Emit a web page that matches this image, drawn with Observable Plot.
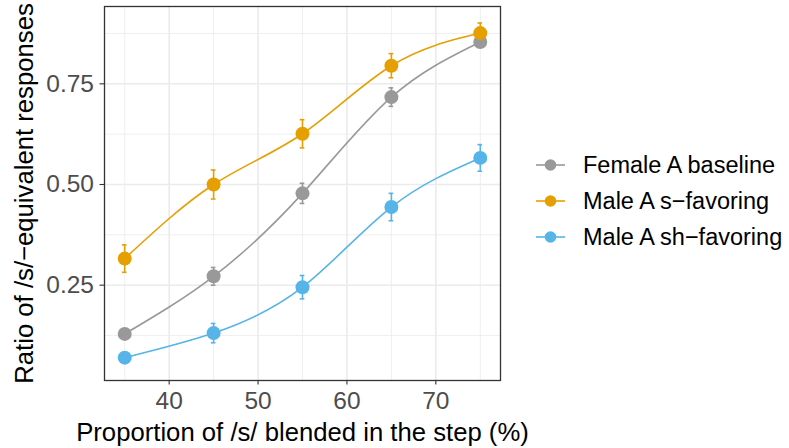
<!DOCTYPE html>
<html>
<head>
<meta charset="utf-8">
<script src="https://cdn.jsdelivr.net/npm/d3@7"></script>
<script src="https://cdn.jsdelivr.net/npm/@observablehq/plot@0.6"></script>
<style>
  html, body { margin: 0; padding: 0; background: #fff; }
  #wrap { position: relative; width: 789px; height: 448px; font-family: "Liberation Sans", Arial, Helvetica, sans-serif; }
  #legend { position: absolute; left: 536px; top: 147px; }
  .item { display: flex; align-items: center; height: 36px; font-size: 23.5px; color: #000; white-space: nowrap; }
  .item svg { margin-right: 18px; }
</style>
</head>
<body>
<div id="wrap"><div id="chart"></div><div id="legend"></div></div>
<script>
// Data
const steps = [35, 45, 55, 65, 75];
const seriesNames = ["Female A baseline", "Male A s\u2212favoring", "Male A sh\u2212favoring"];
const femaleBaseline = [0.129, 0.272, 0.478, 0.717, 0.854];
const maleSFavoring  = [0.316, 0.500, 0.626, 0.795, 0.876];
const maleShFavoring = [0.070, 0.131, 0.245, 0.444, 0.566];
const femaleBaselineErr = [0.010, 0.022, 0.025, 0.023, 0.010];
const maleSFavoringErr  = [0.034, 0.036, 0.035, 0.030, 0.025];
const maleShFavoringErr = [0.010, 0.024, 0.029, 0.034, 0.033];
const seriesColors = ["#999999", "#E69F00", "#56B4E9"];
const xTicks = [40, 50, 60, 70];
const xMinor = [35, 45, 55, 65, 75];
const yTicks = [0.25, 0.50, 0.75];
const yMinor = [0.125, 0.375, 0.625, 0.875];
const xTitle = "Proportion of /s/ blended in the step (%)";
const yTitle = "Ratio of /s/\u2212equivalent responses";

const values = [femaleBaseline, maleSFavoring, maleShFavoring];
const errs = [femaleBaselineErr, maleSFavoringErr, maleShFavoringErr];
const rows = [];
seriesNames.forEach((s, i) => steps.forEach((x, j) => rows.push({series: s, x, y: values[i][j], e: errs[i][j]})));

const capHalf = 0.26;
const font = "'Liberation Sans', Arial, Helvetica, sans-serif";

const chart = Plot.plot({
  width: 789, height: 448,
  marginLeft: 104, marginRight: 289, marginTop: 6, marginBottom: 68,
  style: {fontFamily: font, background: "white", overflow: "visible"},
  x: {domain: [32.725, 77.275]},
  y: {domain: [0.0133, 0.942]},
  color: {domain: seriesNames, range: seriesColors},
  marks: [
    Plot.gridX(xMinor, {stroke: "#EBEBEB", strokeOpacity: 1, strokeWidth: 0.8}),
    Plot.gridY(yMinor, {stroke: "#EBEBEB", strokeOpacity: 1, strokeWidth: 0.8}),
    Plot.gridX(xTicks, {stroke: "#EBEBEB", strokeOpacity: 1, strokeWidth: 1.6}),
    Plot.gridY(yTicks, {stroke: "#EBEBEB", strokeOpacity: 1, strokeWidth: 1.6}),
    Plot.line(rows, {x: "x", y: "y", z: "series", stroke: "series", curve: "natural", strokeWidth: 1.6}),
    Plot.ruleX(rows, {x: "x", y1: d => d.y - d.e, y2: d => d.y + d.e, stroke: "series", strokeWidth: 1.6}),
    Plot.ruleY(rows, {y: d => d.y + d.e, x1: d => d.x - capHalf, x2: d => d.x + capHalf, stroke: "series", strokeWidth: 1.6}),
    Plot.ruleY(rows, {y: d => d.y - d.e, x1: d => d.x - capHalf, x2: d => d.x + capHalf, stroke: "series", strokeWidth: 1.6}),
    Plot.dot(rows, {x: "x", y: "y", fill: "series", r: 7}),
    Plot.frame({stroke: "#333333", strokeWidth: 1.3}),
    Plot.axisX(xTicks, {tickSize: 4.5, tickPadding: 7, fontSize: 24.5, label: null, color: "#333333", fill: "#4D4D4D", strokeWidth: 1.1}),
    Plot.axisY(yTicks, {tickSize: 4.5, tickPadding: 6, fontSize: 24.5, label: null, tickFormat: d3.format(".2f"), color: "#333333", fill: "#4D4D4D", strokeWidth: 1.1}),
    Plot.text([xTitle], {text: d => d, frameAnchor: "bottom", lineAnchor: "bottom", dy: 60, fontSize: 25.7, fill: "#000"}),
    Plot.text([yTitle], {text: d => d, frameAnchor: "left", textAnchor: "middle", lineAnchor: "bottom", rotate: -90, dx: -71.5, fontSize: 25.7, fill: "#000"})
  ]
});
document.getElementById("chart").appendChild(chart);

// Legend
const legend = d3.select("#legend");
seriesNames.forEach((s, i) => {
  const item = legend.append("div").attr("class", "item");
  const svg = item.append("svg").attr("width", 29).attr("height", 14);
  svg.append("line").attr("x1", 0).attr("x2", 29).attr("y1", 7).attr("y2", 7)
    .attr("stroke", seriesColors[i]).attr("stroke-width", 1.6);
  svg.append("circle").attr("cx", 14.5).attr("cy", 7).attr("r", 5.8).attr("fill", seriesColors[i]);
  item.append("span").text(s);
});
</script>
</body>
</html>
